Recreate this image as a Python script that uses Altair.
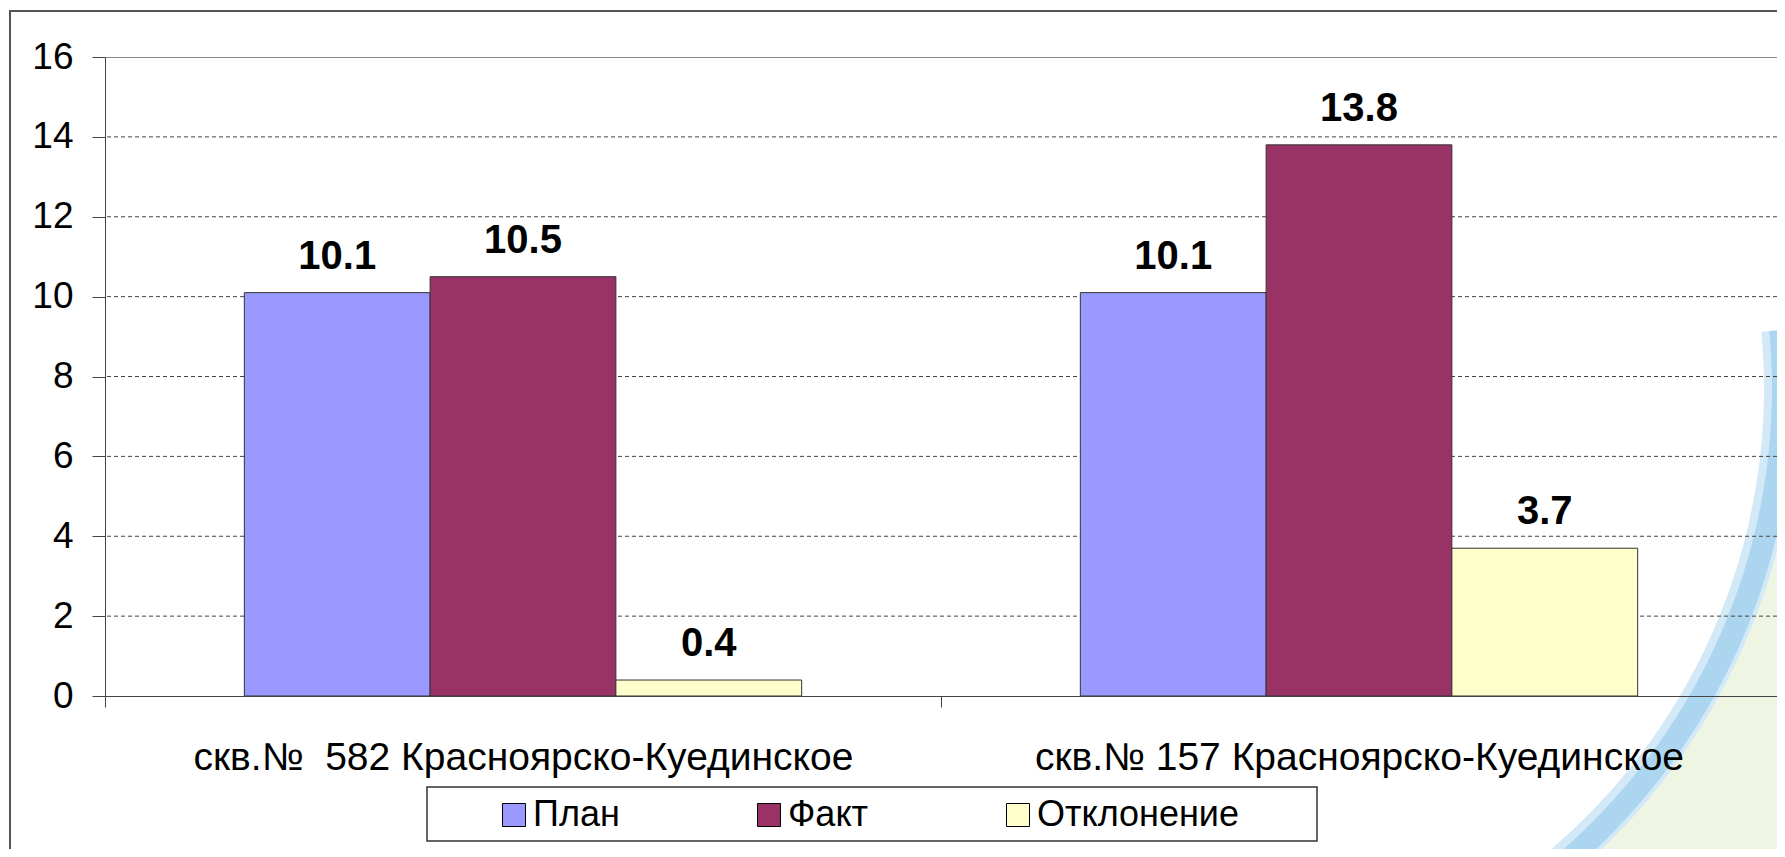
import altair as alt
import pandas as pd

# ---- data ----
wells = ["скв.№\u00a0 582 Красноярско-Куединское", "скв.№ 157 Красноярско-Куединское"]
series_names = ["План", "Факт", "Отклонение"]
plan = [10.1, 10.1]
fact = [10.5, 13.8]
deviation = [0.4, 3.7]
y_ticks = [0, 2, 4, 6, 8, 10, 12, 14, 16]
colors = ["#9999FF", "#993366", "#FFFFCC"]

rows = []
for i, w in enumerate(wells):
    for s, vals in zip(series_names, [plan, fact, deviation]):
        rows.append({"well": w, "series": s, "value": vals[i]})
df = pd.DataFrame(rows)
grid_df = pd.DataFrame({"v": y_ticks[1:-1]})
one = pd.DataFrame({"k": [0]})

FONT = "Liberation Sans"

x_enc = alt.X("well:N", sort=wells,
              scale=alt.Scale(paddingInner=0, paddingOuter=0),
              axis=alt.Axis(title=None, labelAngle=0, labelFont=FONT, labelFontSize=39,
                            labelColor="black", labelPadding=31, labelLimit=0,
                            tickBand="extent", tickSize=11, tickColor="#444",
                            domainColor="#444", grid=False, zindex=1))
xo_enc = alt.XOffset("series:N", sort=series_names,
                     scale=alt.Scale(paddingInner=0, paddingOuter=0.75))
y_scale = alt.Scale(domain=[0, 16], nice=False)
y_enc = alt.Y("value:Q", scale=y_scale,
              axis=alt.Axis(title=None, values=y_ticks, labelFont=FONT, labelFontSize=37,
                            labelColor="black", tickSize=13, labelPadding=19,
                            tickColor="#444", domainColor="#444", grid=False))

# decorative background (slide design)
CX, CY = 1053, 331
T0, T1 = 1.478, 3.3
frame = alt.Chart(one).mark_rect(fill=None, stroke="#555", strokeWidth=2).encode(
    x=alt.value(-95), x2=alt.value(1800), y=alt.value(-46), y2=alt.value(900))
green = alt.Chart(one).mark_arc(radius=1700, radius2=630, theta=T0, theta2=T1,
                                color="#eef5e3").encode(x=alt.value(CX), y=alt.value(CY))
band_soft = alt.Chart(one).mark_arc(radius=640, radius2=606, theta=T0, theta2=T1,
                                    color="#d3e9f7").encode(x=alt.value(CX), y=alt.value(CY))
band = alt.Chart(one).mark_arc(radius=636, radius2=614, theta=T0, theta2=T1,
                               color="#acd5f0").encode(x=alt.value(CX), y=alt.value(CY))
legend_box = alt.Chart(one).mark_rect(fill="white", stroke="#333", strokeWidth=1.5).encode(
    x=alt.value(322), x2=alt.value(1212), y=alt.value(730), y2=alt.value(784))

grid = alt.Chart(grid_df).mark_rule(color="#444", strokeDash=[4, 3], strokeWidth=1).encode(
    y=alt.Y("v:Q", scale=y_scale))

bars = alt.Chart(df).mark_bar(stroke="#333", strokeWidth=1).encode(
    x=x_enc, xOffset=xo_enc, y=y_enc,
    color=alt.Color("series:N", sort=series_names,
                    scale=alt.Scale(domain=series_names, range=colors),
                    legend=alt.Legend(title=None, orient="none", legendX=391, legendY=740,
                                      direction="horizontal", columns=3, symbolType="square",
                                      symbolSize=529, symbolStrokeColor="black",
                                      symbolStrokeWidth=1, labelFont=FONT, labelFontSize=36,
                                      labelColor="black", labelOffset=1, columnPadding=131,
                                      padding=0, labelLimit=0)))

labels = alt.Chart(df).mark_text(dy=-24, baseline="alphabetic", fontWeight="bold",
                                 fontSize=40, font=FONT, color="black").encode(
    x=x_enc, xOffset=xo_enc, y=y_enc, text=alt.Text("value:Q", format=".1f"))

chart = alt.layer(frame, green, band_soft, band, legend_box, grid, bars, labels).properties(
    width=1672, height=639,
    padding={"left": 97, "top": 49, "right": 0, "bottom": 153},
    autosize=alt.AutoSizeParams(type="none"),
    background="white",
).configure_view(stroke="#888", strokeWidth=1)

chart.save("out.html", embed_options={"renderer": "svg", "actions": False})
